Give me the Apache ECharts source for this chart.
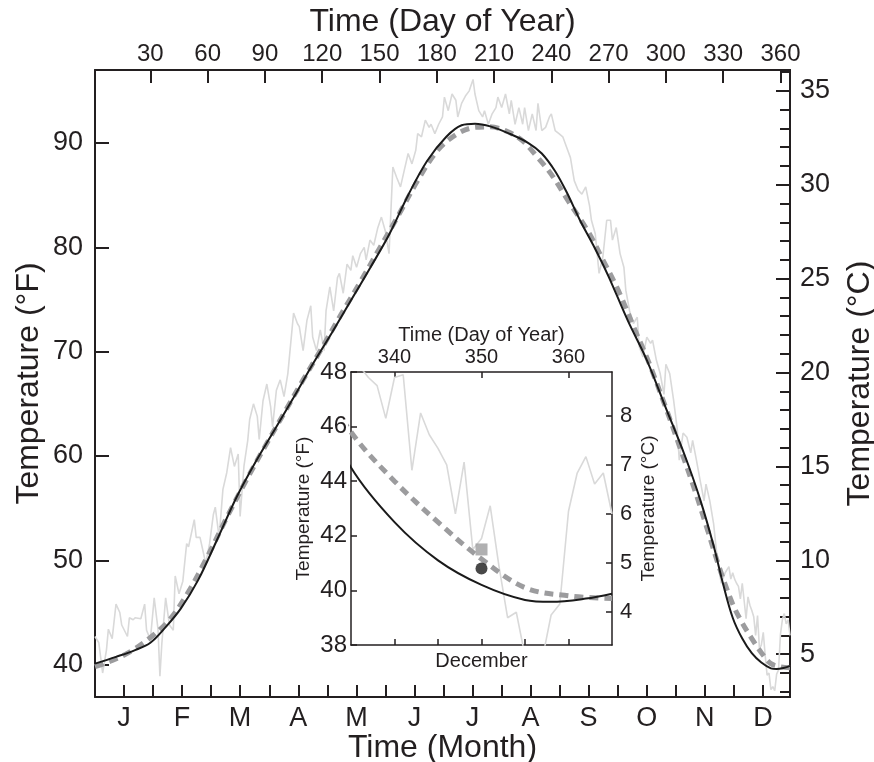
<!DOCTYPE html>
<html><head><meta charset="utf-8">
<script src="https://cdn.jsdelivr.net/npm/echarts@6/dist/echarts.min.js"></script>
<style>html,body{margin:0;padding:0;background:#fff}#c{width:874px;height:762px}</style>
</head><body><div id="c"></div>
<script>
// ---- data (day of year, °F) ----
const rawObs = [
[1,42.7],[3,42.1],[5,39.2],[7,41.4],[8,43.4],[10,42.5],[12,45.8],[14,45.0],[15,43.8],[18,42.7],
[19,44.5],[21,44.3],[22,44.5],[25,44.4],[27,45.8],[28,43.3],[30,42.4],[32,46.4],[34,43.4],[35,38.9],
[36,42.0],[38,46.4],[40,43.8],[42,43.3],[43,48.5],[45,46.8],[47,48.0],[49,51.6],[50,51.3],[53,53.9],
[54,52.2],[56,52.2],[59,49.7],[61,51.6],[63,54.4],[64,55.1],[66,52.2],[68,56.8],[70,58.4],[71,59.6],
[72,60.8],[74,59.0],[76,60.2],[77,54.2],[79,59.0],[81,61.5],[82,63.5],[84,65.0],[86,63.8],[87,61.6],
[89,65.3],[91,66.9],[93,64.7],[94,62.8],[96,66.3],[98,67.3],[100,65.7],[102,67.9],[105,73.7],[107,72.7],
[108,72.4],[110,70.1],[112,73.0],[114,74.4],[115,71.4],[117,70.1],[119,72.1],[121,70.1],[122,73.9],[124,76.2],
[126,73.9],[128,77.1],[129,77.5],[131,75.6],[133,78.4],[135,77.8],[136,79.2],[138,78.1],[140,79.4],[142,80.0],
[143,78.8],[145,80.7],[147,80.2],[149,81.8],[151,82.9],[153,81.6],[155,79.4],[157,87.7],[159,86.7],[161,85.8],
[163,87.4],[165,89.0],[167,88.0],[169,89.3],[170,90.9],[172,90.6],[174,92.2],[176,91.5],[177,91.8],[179,90.9],
[181,91.8],[183,92.5],[184,94.4],[186,93.1],[188,94.7],[190,94.1],[191,92.5],[193,93.8],[195,94.5],[197,95.0],
[199,96.1],[200,94.7],[202,93.1],[204,92.5],[205,93.1],[207,91.8],[209,92.8],[211,93.4],[212,94.4],[214,93.4],
[216,94.7],[218,92.8],[219,94.1],[221,91.8],[223,93.4],[225,91.8],[226,93.4],[228,91.2],[230,92.8],[232,91.2],
[233,93.8],[235,91.2],[237,91.5],[239,92.5],[240,92.8],[242,91.2],[244,90.9],[246,90.6],[248,89.6],[250,88.6],
[252,86.4],[254,85.5],[256,85.1],[258,85.8],[260,84.0],[261,82.6],[263,81.3],[265,77.5],[267,79.1],[269,82.6],
[271,82.6],[272,80.7],[274,81.9],[276,79.4],[278,78.1],[279,75.9],[281,73.9],[283,72.7],[285,73.3],[286,70.5],
[288,69.5],[290,71.4],[292,70.8],[293,71.1],[295,69.2],[297,67.9],[299,65.9],[300,68.8],[302,67.9],[304,65.4],
[306,62.5],[307,59.6],[309,62.2],[311,61.8],[313,60.3],[314,61.5],[316,59.6],[318,57.6],[320,55.7],[321,57.3],
[323,55.7],[325,53.5],[327,50.0],[329,47.8],[331,48.8],[333,49.4],[334,48.2],[335,48.8],[336,48.2],[337,47.8],
[338,47.5],[339,46.3],[340,47.8],[341,47.9],[342,44.4],[343,46.5],[344,45.7],[345,45.2],[346,44.6],[347,42.8],
[348,44.7],[349,41.5],[350,41.9],[351,43.1],[352,40.9],[353,39.0],[354,39.2],[355,37.6],[356,37.9],[357,37.5],
[358,39.1],[359,39.5],[360,42.9],[361,44.3],[362,44.9],[363,43.9],[364,44.3],[365,42.8]
];
const modelCurve = [
[1,40.1],[12,40.75],[22,41.4],[30,42.1],[38,43.6],[46,45.4],[55,48.1],[65,52.0],[75,56.0],[85,59.4],
[95,62.5],[105,65.6],[115,68.8],[125,71.8],[135,74.9],[145,78.0],[155,81.2],[165,85.0],[175,88.3],[185,90.6],
[193,91.7],[200,91.85],[208,91.6],[218,90.9],[228,90.0],[235,89.0],[242,87.3],[248,85.3],[255,82.6],[262,80.2],
[270,77.2],[280,73.0],[290,69.2],[300,64.6],[310,60.0],[318,55.8],[325,51.4],[330,47.7],[335,44.5],[340,42.5],
[345,41.1],[350,40.2],[355,39.65],[358,39.58],[362,39.7],[365,39.88]
];
const climCurve = [
[1,39.8],[10,40.4],[20,41.3],[30,42.6],[40,44.3],[50,47.0],[60,50.4],[70,54.1],[80,57.6],[90,60.9],
[100,64.1],[110,67.3],[120,70.4],[130,73.6],[140,76.7],[150,79.9],[160,83.1],[170,86.4],[180,89.2],[190,90.8],
[200,91.5],[208,91.55],[217,91.1],[225,90.2],[232,88.8],[240,87.0],[249,84.4],[259,81.6],[267,78.8],[275,75.9],
[284,72.0],[291,69.0],[300,64.6],[307,61.0],[315,56.8],[322,52.8],[328,49.3],[335,45.8],[340,44.0],[345,42.5],
[350,41.15],[355,40.1],[360,39.8],[365,39.7]
];
const climPoint = [[350,41.5]];
const modelPoint = [[350,40.8]];

// ---- axis ticks / labels ----
const monthTickDays = [16.2,31.4,46.6,61.8,77.0,92.3,107.5,122.7,137.9,153.1,168.3,183.5,198.7,213.9,229.1,244.3,259.5,274.8,290.0,305.2,320.4,335.6,350.8];
const monthLabelDays = [16.2,46.6,77.0,107.5,137.9,168.3,198.7,229.1,259.5,290.0,320.4,350.8];
const monthLetters = ['J','F','M','A','M','J','J','A','S','O','N','D'];
const dayTicks = [30,60,90,120,150,180,210,240,270,300,330,360];
const fTicks = [40,50,60,70,80,90];
const cTicks = [5,10,15,20,25,30,35];
const cMinorTicks = [3,4,5,6,7,8,9,10,11,12,13,14,15,16,17,18,19,20,21,22,23,24,25,26,27,28,29,30,31,32,33,34,35,36];
const insetDayTicks = [340,345,350,355,360];
const insetDayLabels = [340,350,360];
const insetFTicks = [38,40,42,44,46,48];
const insetCTicks = [4,5,6,7,8];

const F_MIN = 36.9, F_MAX = 97.0, IF_MIN = 38, IF_MAX = 48;
const toC = f => (f - 32) / 1.8;

const ink = '#231f20';
const FONT = '"Liberation Sans", Arial, Helvetica, sans-serif';
const ts = (size) => ({color: ink, fontSize: size, fontFamily: FONT});
const SMOOTH = 0.35;

function baseAxis(o) {
  return Object.assign({
    type: 'value',
    splitLine: {show: false},
    nameMoveOverlap: false,
    axisLine: {show: true, onZero: false, lineStyle: {color: ink, width: 2}},
  }, o);
}

const chart = echarts.init(document.getElementById('c'), null, {renderer: 'canvas'});
chart.setOption({
  animation: false,
  backgroundColor: '#fff',
  grid: [
    {left: 95, right: 84, top: 70, bottom: 65, containLabel: false, outerBoundsMode: 'none'},
    {left: 351, top: 372, width: 261, height: 273, containLabel: false, outerBoundsMode: 'none'}
  ],
  xAxis: [
    baseAxis({gridIndex: 0, position: 'bottom', min: 1, max: 365,
      axisTick: {show: true, inside: true, length: 12, customValues: monthTickDays, lineStyle: {color: ink, width: 2}},
      axisLabel: Object.assign({customValues: monthLabelDays, margin: 8,
        formatter: v => { let b = 0; monthLabelDays.forEach((d, i) => { if (Math.abs(d - v) < Math.abs(monthLabelDays[b] - v)) b = i; }); return monthLetters[b]; }}, ts(27)),
      name: 'Time (Month)', nameLocation: 'middle', nameGap: 35, nameTextStyle: ts(32)}),
    baseAxis({gridIndex: 0, position: 'top', min: 1, max: 365,
      axisTick: {show: true, inside: true, length: 13, customValues: dayTicks, lineStyle: {color: ink, width: 2}},
      axisLabel: Object.assign({customValues: dayTicks, margin: 4}, ts(24)),
      name: 'Time (Day of Year)', nameLocation: 'middle', nameGap: 32, nameTextStyle: ts(32)}),
    baseAxis({gridIndex: 1, position: 'bottom', min: 335, max: 365,
      axisLine: {show: true, onZero: false, lineStyle: {color: ink, width: 1.5}},
      axisTick: {show: true, inside: true, length: 6, customValues: insetDayTicks, lineStyle: {color: ink, width: 1.5}},
      axisLabel: {show: false},
      name: 'December', nameLocation: 'middle', nameGap: 6, nameTextStyle: ts(20)}),
    baseAxis({gridIndex: 1, position: 'top', min: 335, max: 365,
      axisLine: {show: true, onZero: false, lineStyle: {color: ink, width: 1.5}},
      axisTick: {show: true, inside: true, length: 6, customValues: insetDayLabels, lineStyle: {color: ink, width: 1.5}},
      axisLabel: Object.assign({customValues: insetDayLabels, margin: 5}, ts(20)),
      name: 'Time (Day of Year)', nameLocation: 'middle', nameGap: 27, nameTextStyle: ts(20)})
  ],
  yAxis: [
    baseAxis({gridIndex: 0, position: 'left', min: F_MIN, max: F_MAX,
      axisTick: {show: true, inside: true, length: 14, customValues: fTicks, lineStyle: {color: ink, width: 2}},
      axisLabel: Object.assign({customValues: fTicks, margin: 12}, ts(27)),
      name: 'Temperature (°F)', nameLocation: 'middle', nameRotate: 90, nameGap: 50, nameTextStyle: ts(32)}),
    baseAxis({gridIndex: 0, position: 'right', min: toC(F_MIN), max: toC(F_MAX),
      axisTick: {show: true, inside: true, length: 14, customValues: cTicks, lineStyle: {color: ink, width: 2}},
      axisLabel: Object.assign({customValues: cTicks, margin: 10}, ts(27)),
      name: 'Temperature (°C)', nameLocation: 'middle', nameRotate: 90, nameGap: 54, nameTextStyle: ts(32)}),
    baseAxis({gridIndex: 0, position: 'right', min: toC(F_MIN), max: toC(F_MAX),
      axisTick: {show: true, inside: true, length: 10, customValues: cMinorTicks, lineStyle: {color: ink, width: 2}},
      axisLabel: {show: false}}),
    baseAxis({gridIndex: 1, position: 'left', min: IF_MIN, max: IF_MAX,
      axisLine: {show: true, onZero: false, lineStyle: {color: ink, width: 1.5}},
      axisTick: {show: true, inside: true, length: 6, customValues: insetFTicks, lineStyle: {color: ink, width: 1.5}},
      axisLabel: Object.assign({customValues: insetFTicks, margin: 4}, ts(24)),
      name: 'Temperature (°F)', nameLocation: 'middle', nameRotate: 90, nameGap: 38, nameTextStyle: ts(19)}),
    baseAxis({gridIndex: 1, position: 'right', min: toC(IF_MIN), max: toC(IF_MAX),
      axisLine: {show: true, onZero: false, lineStyle: {color: ink, width: 1.5}},
      axisTick: {show: true, inside: true, length: 6, customValues: insetCTicks, lineStyle: {color: ink, width: 1.5}},
      axisLabel: Object.assign({customValues: insetCTicks, margin: 8}, ts(22)),
      name: 'Temperature (°C)', nameLocation: 'middle', nameRotate: 90, nameGap: 27, nameTextStyle: ts(19)})
  ],
  series: [
    {type: 'line', xAxisIndex: 0, yAxisIndex: 0, data: rawObs, showSymbol: false, symbol: 'none', z: 1,
      lineStyle: {color: '#d9d9d9', width: 1.6}},
    {type: 'line', xAxisIndex: 0, yAxisIndex: 0, data: climCurve, smooth: SMOOTH, symbol: 'none', z: 2,
      lineStyle: {color: '#9c9c9e', width: 5, type: [9, 6]}},
    {type: 'line', xAxisIndex: 0, yAxisIndex: 0, data: modelCurve, smooth: SMOOTH, symbol: 'none', z: 3,
      lineStyle: {color: '#1a1a1a', width: 2}},
    {type: 'line', xAxisIndex: 2, yAxisIndex: 3, data: rawObs, symbol: 'none', z: 1,
      lineStyle: {color: '#d9d9d9', width: 1.6}},
    {type: 'line', xAxisIndex: 2, yAxisIndex: 3, data: climCurve, smooth: SMOOTH, symbol: 'none', z: 2,
      lineStyle: {color: '#9c9c9e', width: 5, type: [9, 6]}},
    {type: 'line', xAxisIndex: 2, yAxisIndex: 3, data: modelCurve, smooth: SMOOTH, symbol: 'none', z: 3,
      lineStyle: {color: '#1a1a1a', width: 2}},
    {type: 'scatter', xAxisIndex: 2, yAxisIndex: 3, data: climPoint, symbol: 'rect', symbolSize: 12, z: 4,
      itemStyle: {color: '#9c9c9e'}},
    {type: 'scatter', xAxisIndex: 2, yAxisIndex: 3, data: modelPoint, symbol: 'circle', symbolSize: 12, z: 4,
      itemStyle: {color: '#1a1a1a'}}
  ]
});
</script>
</body></html>
